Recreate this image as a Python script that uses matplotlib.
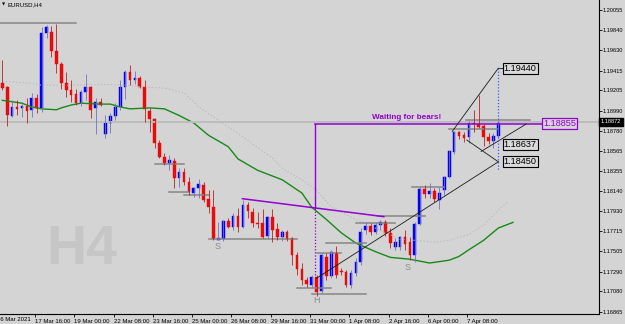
"""
EURUSD H4 chart with head & shoulders markup.
"""

import numpy as np
import matplotlib
matplotlib.use("Agg")
from matplotlib import pyplot as plt
from matplotlib import transforms

# ---- candles (H4 bars, index 0 .. 101) ----
opens = [1.1928, 1.1924, 1.1893, 1.1903, 1.1902, 1.1904, 1.1900, 1.1912, 1.1902, 1.1981,
         1.1982, 1.1962, 1.1948, 1.1928, 1.1921, 1.1917, 1.1907, 1.1919, 1.1924, 1.1902,
         1.1908, 1.1874, 1.1886, 1.1893, 1.1903, 1.1924, 1.1940, 1.1932, 1.1934, 1.1924,
         1.1899, 1.1890, 1.1865, 1.1850, 1.1844, 1.1846, 1.1828, 1.1834, 1.1824, 1.1812,
         1.1817, 1.1821, 1.1806, 1.1797, 1.1762, 1.1763, 1.1782, 1.1776, 1.1788, 1.1776,
         1.1799, 1.1792, 1.1780, 1.1780, 1.1767, 1.1787, 1.1774, 1.1766, 1.1771, 1.1764,
         1.1747, 1.1732, 1.1720, 1.1715, 1.1723, 1.1708, 1.1744, 1.1724, 1.1749, 1.1730,
         1.1729, 1.1715, 1.1727, 1.1739, 1.1773, 1.1777, 1.1771, 1.1778, 1.1781, 1.1770,
         1.1755, 1.1755, 1.1766, 1.1760, 1.1747, 1.1779, 1.1816, 1.1811, 1.1814, 1.1805,
         1.1815, 1.1829, 1.1855, 1.1877, 1.1873, 1.1871, 1.1887, 1.1885, 1.1883, 1.1871,
         1.1867, 1.1872]
highs = [1.1953, 1.1925, 1.1910, 1.1910, 1.1906, 1.1912, 1.1918, 1.1917, 1.1987, 1.1990,
         1.1989, 1.1991, 1.1950, 1.1940, 1.1932, 1.1922, 1.1921, 1.1938, 1.1925, 1.1912,
         1.1912, 1.1894, 1.1897, 1.1907, 1.1932, 1.1942, 1.1947, 1.1941, 1.1936, 1.1932,
         1.1902, 1.1891, 1.1868, 1.1854, 1.1852, 1.1849, 1.1838, 1.1838, 1.1829, 1.1818,
         1.1827, 1.1824, 1.1815, 1.1815, 1.1781, 1.1784, 1.1786, 1.1791, 1.1796, 1.1805,
         1.1803, 1.1796, 1.1792, 1.1795, 1.1788, 1.1795, 1.1780, 1.1773, 1.1773, 1.1766,
         1.1750, 1.1738, 1.1723, 1.1725, 1.1725, 1.1749, 1.1749, 1.1752, 1.1756, 1.1733,
         1.1731, 1.1731, 1.1743, 1.1775, 1.1781, 1.1780, 1.1781, 1.1784, 1.1784, 1.1775,
         1.1764, 1.1767, 1.1773, 1.1766, 1.1781, 1.1818, 1.1821, 1.1823, 1.1817, 1.1818,
         1.1830, 1.1857, 1.1878, 1.1878, 1.1877, 1.1888, 1.1900, 1.1916, 1.1885, 1.1875,
         1.1875, 1.1888]
lows = [1.1921, 1.1883, 1.1892, 1.1894, 1.1892, 1.1886, 1.1892, 1.1897, 1.1898, 1.1976,
        1.1956, 1.1939, 1.1922, 1.1914, 1.1908, 1.1905, 1.1904, 1.1910, 1.1891, 1.1874,
        1.1904, 1.1870, 1.1875, 1.1889, 1.1900, 1.1911, 1.1926, 1.1927, 1.1923, 1.1887,
        1.1877, 1.1860, 1.1849, 1.1842, 1.1836, 1.1817, 1.1818, 1.1821, 1.1810, 1.1808,
        1.1807, 1.1803, 1.1791, 1.1762, 1.1762, 1.1761, 1.1775, 1.1773, 1.1771, 1.1775,
        1.1786, 1.1776, 1.1775, 1.1764, 1.1764, 1.1760, 1.1762, 1.1761, 1.1761, 1.1736,
        1.1725, 1.1715, 1.1713, 1.1713, 1.1703, 1.1706, 1.1720, 1.1722, 1.1722, 1.1725,
        1.1713, 1.1712, 1.1724, 1.1736, 1.1769, 1.1768, 1.1769, 1.1773, 1.1767, 1.1754,
        1.1752, 1.1752, 1.1752, 1.1741, 1.1739, 1.1778, 1.1807, 1.1807, 1.1803, 1.1795,
        1.1810, 1.1828, 1.1853, 1.1869, 1.1866, 1.1865, 1.1877, 1.1881, 1.1862, 1.1864,
        1.1860, 1.1870]
closes = [1.1923, 1.1894, 1.1903, 1.1901, 1.1904, 1.1899, 1.1912, 1.1902, 1.1981, 1.1987,
          1.1962, 1.1948, 1.1928, 1.1921, 1.1916, 1.1907, 1.1919, 1.1924, 1.1900, 1.1908,
          1.1905, 1.1886, 1.1893, 1.1903, 1.1924, 1.1940, 1.1932, 1.1934, 1.1924, 1.1901,
          1.1890, 1.1865, 1.1850, 1.1844, 1.1847, 1.1828, 1.1834, 1.1824, 1.1813, 1.1817,
          1.1822, 1.1805, 1.1797, 1.1763, 1.1764, 1.1782, 1.1776, 1.1788, 1.1776, 1.1799,
          1.1793, 1.1780, 1.1779, 1.1766, 1.1787, 1.1773, 1.1766, 1.1771, 1.1763, 1.1747,
          1.1732, 1.1720, 1.1716, 1.1723, 1.1707, 1.1747, 1.1724, 1.1750, 1.1725, 1.1729,
          1.1715, 1.1727, 1.1739, 1.1771, 1.1777, 1.1771, 1.1778, 1.1781, 1.1770, 1.1759,
          1.1760, 1.1766, 1.1758, 1.1747, 1.1779, 1.1816, 1.1811, 1.1814, 1.1806, 1.1812,
          1.1829, 1.1856, 1.1877, 1.1872, 1.1870, 1.1887, 1.1885, 1.1882, 1.1871, 1.1867,
          1.1872, 1.18872]

# ---- moving averages (shifted forward, so they run past the last bar) ----
ma_green_bars = [0, 4, 6, 8, 11, 12, 14, 16, 20, 22, 24, 26, 30, 33, 36, 39, 42, 46, 48,
                 52, 57, 61, 63, 66, 69, 72, 76, 79, 83, 87, 91, 93, 95, 98, 101, 104]
ma_green = [1.1910, 1.1907, 1.1903, 1.1901, 1.1900, 1.1902, 1.1905, 1.1907, 1.1906,
            1.1906, 1.1903, 1.1901, 1.1902, 1.1901, 1.1894, 1.1886, 1.1873, 1.1861,
            1.1848, 1.1836, 1.1826, 1.1812, 1.1797, 1.1784, 1.1770, 1.1759, 1.1750,
            1.1744, 1.1742, 1.1738, 1.1741, 1.1745, 1.1752, 1.1762, 1.1775, 1.1781]
ma_grey_bars = [0, 6, 8, 13, 20, 25, 29, 33, 37, 40, 44, 48, 55, 57, 61, 64, 67, 72,
                79, 81, 84, 88, 91, 95, 98, 101, 103]
ma_grey = [1.1930, 1.1928, 1.1926, 1.1926, 1.1927, 1.1926, 1.1924, 1.1923, 1.1918,
           1.1903, 1.1889, 1.1875, 1.1849, 1.1838, 1.1826, 1.1815, 1.1797, 1.1784,
           1.1768, 1.1763, 1.1762, 1.1760, 1.1762, 1.1768, 1.1778, 1.1794, 1.1803]

# ---- horizontal level segments (start bar, end bar, price) ----
levels = [(-1, 15, 1.1992), (31, 37, 1.1843), (34, 38, 1.1813), (37, 42, 1.1810),
          (42, 60, 1.1763), (60, 67, 1.1712), (63, 74, 1.1705), (64, 69, 1.1749),
          (66, 74, 1.1759), (72, 80, 1.1780), (76.5, 86, 1.1788), (83.5, 90, 1.1818),
          (91, 101, 1.1880), (94.5, 107.5, 1.1889)]

# ---- trend lines ((bar, price), (bar, price)) ----
neckline = ((48.9, 1.1806), (77.7, 1.1787))
trend_lines = [((64, 1.1722), (101, 1.1845)),
               ((97.5, 1.1856), (106.7, 1.1885)),
               ((94.6, 1.1868), (101, 1.1845)),
               ((91.6, 1.1877), (101, 1.1944)),
               ((101, 1.1944), (102, 1.1944))]

pattern_letters = [("S", 43.9, 1.1755), ("H", 63.9, 1.1698), ("S", 82.6, 1.1733)]
target_labels = [1.19440, 1.18637, 1.18450]
sell_level = 1.18855
bid = 1.18872
signal_bar = 63.7
last_bar = 101

ytick_vals = [1.20055, 1.19840, 1.19630, 1.19415, 1.19205, 1.18990, 1.18780, 1.18565,
              1.18355, 1.18140, 1.17930, 1.17715, 1.17505, 1.17290, 1.17080, 1.16865]
xtick_bars = [7, 15, 23, 31, 39, 47, 55, 63, 71, 79, 87, 95]
xtick_labels = ["17 Mar 16:00", "19 Mar 00:00", "22 Mar 08:00", "23 Mar 16:00",
                "25 Mar 00:00", "26 Mar 08:00", "29 Mar 16:00", "31 Mar 00:00",
                "1 Apr 08:00", "2 Apr 16:00", "6 Apr 00:00", "7 Apr 08:00"]

BG = "#d4d4d4"
PURPLE = "#9400d3"
FONT = "Liberation Sans"

fig = plt.figure(figsize=(6.25, 3.24), dpi=100, facecolor=BG)
ax = fig.add_axes([0, 10 / 324, 599 / 625, 314 / 324], facecolor=BG)
ax.set_xlim(-0.47, 121.5)
ax.set_ylim(1.16841, 1.201607)

# watermark
ax.text(82 / 599, 1 - 250 / 314, "H4", transform=ax.transAxes, fontsize=40,
        fontweight="bold", family=FONT, color="#c6c6c6", ha="center", va="center")

# moving averages
ax.plot(ma_grey_bars, ma_grey, color="#bababa", lw=0.7, ls=(0, (1.5, 2)))
ax.plot(ma_green_bars, ma_green, color="#178a17", lw=1.0)

# bid line
ax.axhline(bid, color="#bdbdbd", lw=1.4)

# levels
for x1, x2, p in levels:
    ax.plot([x1, x2], [p, p], color="#868686", lw=1.1)

# candles
x = np.arange(len(opens))
o = np.array(opens); h = np.array(highs); l = np.array(lows); c = np.array(closes)
up = c >= o
ax.vlines(x[up], l[up], h[up], color="#7272c4", lw=0.6)
ax.vlines(x[~up], l[~up], h[~up], color="#b82222", lw=0.6)
body_lo = np.minimum(o, c)
body_h = np.maximum(np.abs(c - o), 0.00006)
ax.bar(x[up], body_h[up], bottom=body_lo[up], width=0.55, color="#0000ff",
       edgecolor="#0000ff", lw=0.3)
ax.bar(x[~up], body_h[~up], bottom=body_lo[~up], width=0.55, color="#ff0000",
       edgecolor="#ff0000", lw=0.3)

# neckline and signal
(nx1, ny1), (nx2, ny2) = neckline
ax.plot([nx1, nx2], [ny1, ny2], color=PURPLE, lw=1.1)
sig_y = ny1 + (ny2 - ny1) * (signal_bar - nx1) / (nx2 - nx1)
ax.plot([signal_bar, signal_bar], [sell_level, sig_y], color=PURPLE, lw=1.0)
ax.plot([signal_bar, signal_bar], [sig_y, highs[64]], color=PURPLE, lw=0.9, ls=(0, (1, 1.5)))
ax.plot([signal_bar, 109.9], [sell_level, sell_level], color=PURPLE, lw=1.1)
ax.annotate("Waiting for bears!", (75.3, sell_level), xytext=(0, 4.5),
            textcoords="offset points", fontsize=5.9, fontweight="bold", family=FONT,
            color=PURPLE, ha="left", va="center")
ax.text(110.1, sell_level, "%.5f" % sell_level, fontsize=6.6, family=FONT, color=PURPLE,
        ha="left", va="center",
        bbox=dict(boxstyle="square,pad=0.12", fc=BG, ec=PURPLE, lw=0.9))

# channel / projection lines
for (x1, y1), (x2, y2) in trend_lines:
    ax.plot([x1, x2], [y1, y2], color="#1a1a1a", lw=0.6)
ax.plot([last_bar, last_bar], [target_labels[0], 1.1836], color="#3c5cff", lw=0.9,
        ls=(0, (1, 1.5)))
for p in target_labels:
    ax.text(102.1, p, "%.5f" % p, fontsize=6.6, family=FONT, color="black",
            ha="left", va="center",
            bbox=dict(boxstyle="square,pad=0.12", fc="#dadada", ec="black", lw=0.8))

for s, bx, p in pattern_letters:
    ax.text(bx, p, s, fontsize=6.5, family=FONT, color="#8c8c8c", ha="center", va="center")

# axes styling
for side in ("left", "top"):
    ax.spines[side].set_visible(False)
ax.spines["right"].set_color("black")
ax.spines["bottom"].set_color("black")
ax.spines["right"].set_linewidth(0.8)
ax.spines["bottom"].set_linewidth(0.8)
ax.yaxis.tick_right()
ax.set_yticks(ytick_vals)
ax.set_yticklabels(["%.5f" % v for v in ytick_vals])
ax.tick_params(axis="y", length=2.0, width=0.6, pad=0.8, labelsize=4.1)
ax.set_xticks([b - 0.35 for b in xtick_bars])
ax.set_xticklabels(xtick_labels)
ax.tick_params(axis="x", length=2.5, width=0.6, pad=1.0, labelsize=4.3)
for lbl in ax.get_xticklabels() + ax.get_yticklabels():
    lbl.set_family(FONT)
for lbl in ax.get_xticklabels():
    lbl.set_horizontalalignment("left")
trans = transforms.blended_transform_factory(ax.transData, ax.transAxes)
ax.text(-1.35 + 0.2, -0.008, "16 Mar 2021", transform=trans, fontsize=4.3, family=FONT,
        ha="left", va="top")

# current price tag on the axis
ax.annotate("%.5f" % bid, (1, bid), xycoords=("axes fraction", "data"), xytext=(1.2, 0),
            textcoords="offset points", fontsize=4.1, family=FONT, color="white",
            ha="left", va="center",
            bbox=dict(boxstyle="square,pad=0.3", fc="black", ec="black"))

# window title
fig.text(7 / 625, 1 - 4.5 / 324, "EURUSD,H4", fontsize=4.3, family=FONT, va="center")
fig.text(1.5 / 625, 1 - 4.5 / 324, "\u25bc", fontsize=3.0, va="center")

fig.savefig("out.png", dpi=100, facecolor=BG)
